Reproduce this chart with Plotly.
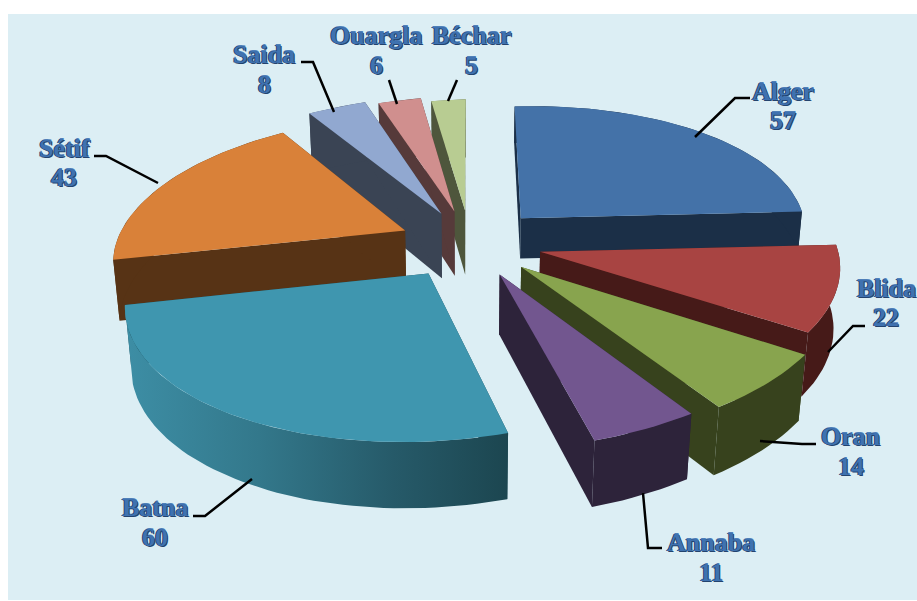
import math
import plotly.graph_objects as go

# --- data ---
categories = ["Alger", "Blida", "Oran", "Annaba", "Batna", "Sétif", "Saida", "Ouargla", "Béchar"]
values = [57, 22, 14, 11, 60, 43, 8, 6, 5]

# --- style ---
top_colors = ["#4472A8", "#A84442", "#88A44E", "#72568F", "#3F96AF", "#D98139", "#91A8D0", "#D08F8E", "#B8CC92"]
wall_colors = ["#1B2F47", "#461A18", "#37421D", "#2D233A", "#1E4A55", "#573315", "#3A4454", "#563A3A", "#4E563C"]
wall_heights = [0.16, 0.235, 0.24, 0.23, 0.23, 0.24, 0.26, 0.26, 0.26]
slice_radii = [0.985, 1.0, 1.045, 1.025, 0.995, 1.0, 1.07, 1.04, 1.0]
paint_order = ["Béchar", "Ouargla", "Saida", "Sétif", "Alger", "Blida", "Oran", "Annaba", "Batna"]
PULL = 0.25
CX, CY, F = 470, 243, 292
SIN_E, COS_E, DIST = 0.465, 0.885, 6.2
SHEAR = 0.03

label_pos = {"Alger": (783, 91, 120), "Blida": (886, 288, 317), "Oran": (851, 436, 466),
             "Annaba": (711, 542, 572), "Batna": (155, 507, 537), "Sétif": (64, 148, 177),
             "Saida": (264, 54, 84), "Ouargla": (376, 35, 65), "Béchar": (471, 35, 65)}
leaders = {"Alger": [(750, 98), (735, 98), (695, 137)], "Blida": [(865, 326), (853, 326), (828, 352)],
           "Oran": [(816, 444), (802, 444), (760, 441)], "Annaba": [(662, 548), (648, 548), (643, 493)],
           "Batna": [(193, 516), (205, 516), (252, 479)], "Sétif": [(94, 156), (106, 156), (158, 183)],
           "Saida": [(301, 62), (313, 62), (334, 112)], "Ouargla": [(389, 80), (397, 104)],
           "Béchar": [(457, 80), (448, 101)]}


def project(X, Y, Z=0.0):
    w = Y * COS_E + Z * SIN_E
    s = DIST / (DIST - w)
    dx, dy = F * X * s, F * (Y * SIN_E - Z * COS_E) * s
    return CX + dx, CY + dy - SHEAR * dx


def poly(pts, color=None, gradient=None):
    xs = [p[0] for p in pts] + [pts[0][0]]
    ys = [p[1] for p in pts] + [pts[0][1]]
    kw = dict(fillgradient=gradient) if gradient else dict(fillcolor=color)
    return go.Scatter(x=xs, y=ys, mode="lines", fill="toself", line=dict(width=0),
                      hoverinfo="skip", showlegend=False, **kw)


total = sum(values)
fig = go.Figure()
spans = {}
acc = 0
for name, v in zip(categories, values):
    spans[name] = (acc / total * 2 * math.pi, (acc + v) / total * 2 * math.pi)
    acc += v

for name in paint_order:
    i = categories.index(name)
    a0, a1 = spans[name]
    mid = (a0 + a1) / 2
    ox, oy = PULL * math.sin(mid), -PULL * math.cos(mid)
    h, r = wall_heights[i], slice_radii[i]
    n = max(4, int((a1 - a0) / 0.03))
    arc = [(ox + r * math.sin(a0 + (a1 - a0) * k / n), oy - r * math.cos(a0 + (a1 - a0) * k / n)) for k in range(n + 1)]
    top_arc = [project(x, y) for x, y in arc]
    bot_arc = [project(x, y, -h) for x, y in arc]
    apex_t, apex_b = project(ox, oy), project(ox, oy, -h)
    # radial walls
    fig.add_trace(poly([apex_t, top_arc[0], bot_arc[0], apex_b], wall_colors[i]))
    fig.add_trace(poly([apex_t, top_arc[-1], bot_arc[-1], apex_b], wall_colors[i]))
    # outer wall
    if name == "Batna":
        grad = dict(type="horizontal", colorscale=[[0, "#3D8EA5"], [0.35, "#33788B"], [0.7, "#265A69"], [1, "#1C4650"]])
        fig.add_trace(poly(top_arc + bot_arc[::-1], gradient=grad))
    else:
        fig.add_trace(poly(top_arc + bot_arc[::-1], wall_colors[i]))
    # top face
    fig.add_trace(poly([apex_t] + top_arc, top_colors[i]))

TEXT_SHADOW = "1px 1px 0 #23436E, -1px 0 0 #23436E, 0 -1px 0 #4F7FB8"
annotations = []
for name, v in zip(categories, values):
    lx, y1, y2 = label_pos[name]
    for txt, y in ((name, y1), (str(v), y2)):
        annotations.append(dict(x=lx, y=y, xref="x", yref="y", text=txt, showarrow=False,
                                xanchor="center", yanchor="middle",
                                font=dict(family="Liberation Serif", size=26, color="#3F72B0",
                                          weight=700, shadow=TEXT_SHADOW)))
    pts = leaders[name]
    fig.add_trace(go.Scatter(x=[p[0] for p in pts], y=[p[1] for p in pts], mode="lines",
                             line=dict(color="#000000", width=2.5), hoverinfo="skip", showlegend=False))

fig.update_layout(
    width=917, height=601, margin=dict(l=0, r=0, t=0, b=0),
    paper_bgcolor="#FFFFFF", plot_bgcolor="#FFFFFF", showlegend=False,
    xaxis=dict(range=[0, 917], visible=False, fixedrange=True),
    yaxis=dict(range=[601, 0], visible=False, fixedrange=True),
    shapes=[dict(type="rect", xref="x", yref="y", x0=8, y0=14, x1=917, y1=600,
                 fillcolor="#DCEEF4", line=dict(width=0), layer="below")],
    annotations=annotations,
)
fig.write_html("out.html", post_script="document.body.style.margin='0';", config={"displayModeBar": False})
